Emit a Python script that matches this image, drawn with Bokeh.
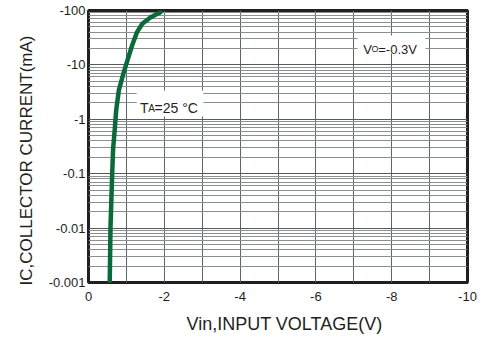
from bokeh.plotting import figure
from bokeh.models import (Range1d, FixedTicker, CustomJSTickFormatter, Label,
                          BoxAnnotation, Title)
from bokeh.embed import file_html
from bokeh.resources import INLINE

# ---- data ----
vin = [-0.56, -0.58, -0.625, -0.65, -0.69, -0.73, -0.80, -0.92, -1.04,
       -1.15, -1.28, -1.42, -1.64, -1.90]
ic = [0.001, 0.01, 0.1, 0.29, 0.62, 1.45, 3.4, 6.9, 12.9, 22.7, 40, 57,
      75, 93]

x_major = [0, -2, -4, -6, -8, -10]
x_minor = [-1, -3, -5, -7, -9]
y_major = [0.001, 0.01, 0.1, 1, 10, 100]
y_minor = [m * d for d in [0.001, 0.01, 0.1, 1, 10] for m in range(2, 10)]

x_title = "Vin,INPUT VOLTAGE(V)"
y_title = "IC,COLLECTOR CURRENT(mA)"

FONT = "Liberation Sans"
TXT = "#231f20"

p = figure(width=482, height=348, output_backend="svg", toolbar_location=None,
           y_axis_type="log",
           x_range=Range1d(0, -10), y_range=Range1d(0.001, 100),
           min_border_left=88, min_border_right=15, min_border_top=10,
           min_border_bottom=66)
p.background_fill_color = "white"
p.border_fill_color = "white"
p.outline_line_color = TXT
p.outline_line_width = 3

# axes
p.xaxis.ticker = FixedTicker(ticks=x_major, minor_ticks=x_minor)
p.yaxis.ticker = FixedTicker(ticks=y_major, minor_ticks=y_minor)
p.xaxis.formatter = CustomJSTickFormatter(code="return String(tick);")
p.yaxis.formatter = CustomJSTickFormatter(code="return '-' + String(tick);")
for ax in (p.xaxis, p.yaxis):
    ax.axis_line_color = None
    ax.major_tick_line_color = None
    ax.minor_tick_line_color = None
    ax.major_tick_out = 0
    ax.minor_tick_out = 0
    ax.major_tick_in = 0
    ax.minor_tick_in = 0
    ax.major_label_text_font = FONT
    ax.major_label_text_font_size = "13px"
    ax.major_label_text_color = TXT
p.xaxis.major_label_standoff = 9
p.yaxis.major_label_standoff = 3

# axis titles as side-panel titles (allow offset along the axis)
p.add_layout(Title(text=x_title, align="left", offset=98, standoff=17,
                   text_font=FONT, text_font_size="18px",
                   text_font_style="normal", text_color=TXT), "below")
p.add_layout(Title(text=y_title, align="left", offset=-3, standoff=20,
                   text_font=FONT, text_font_size="17px",
                   text_font_style="normal", text_color=TXT), "left")

# grid
p.xgrid.grid_line_color = "#5f6666"
p.xgrid.grid_line_width = 1
p.xgrid.minor_grid_line_color = "#5f6666"
p.xgrid.minor_grid_line_width = 1
p.ygrid.grid_line_color = "#555b5b"
p.ygrid.grid_line_width = 1
p.ygrid.minor_grid_line_color = "#8a9090"
p.ygrid.minor_grid_line_width = 1

# curve
p.line(vin, ic, line_color="#0a6a3a", line_width=4.5, line_cap="round")

# annotations
p.add_layout(BoxAnnotation(left=-1.27, right=-3.03, bottom=1.13, top=3.38,
                           fill_color="white", fill_alpha=1, line_color=None))
p.add_layout(BoxAnnotation(left=-7.10, right=-8.89, bottom=16.2, top=34.7,
                           fill_color="white", fill_alpha=1, line_color=None))

def lab(x, y, t, size, dx=0):
    p.add_layout(Label(x=x, y=y, text=t, text_font=FONT, x_offset=dx,
                       text_font_size=size, text_color=TXT,
                       text_align="left", text_baseline="alphabetic"))

lab(-1.36, 1.58, "T", "14px")
lab(-1.36, 1.58, "A", "10px", dx=8.3)
lab(-1.36, 1.58, "=25 °C", "14px", dx=14.5)
lab(-7.25, 19.2, "V", "13px")
lab(-7.25, 19.2, "O", "9px", dx=8.3)
lab(-7.25, 19.2, "=-0.3V", "13px", dx=15)

open("out.html", "w").write(file_html(p, INLINE))
